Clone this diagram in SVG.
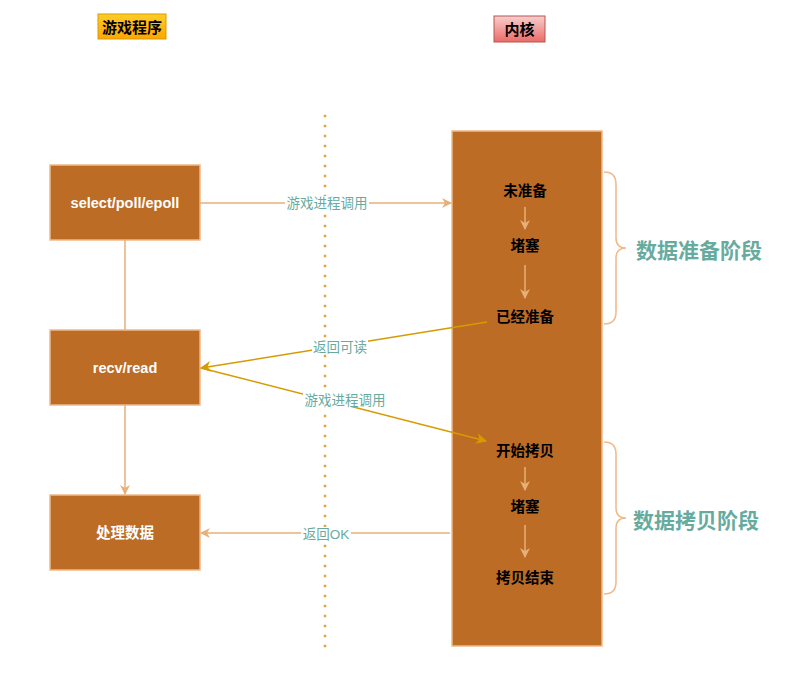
<svg xmlns="http://www.w3.org/2000/svg" width="794" height="679" viewBox="0 0 794 679">
  <defs>
    <linearGradient id="gOrange" x1="0" y1="0" x2="0" y2="1">
      <stop offset="0" stop-color="#ffcd28"/>
      <stop offset="1" stop-color="#ffa500"/>
    </linearGradient>
    <linearGradient id="gRed" x1="0" y1="0" x2="0" y2="1">
      <stop offset="0" stop-color="#f8cecc"/>
      <stop offset="1" stop-color="#ea6b66"/>
    </linearGradient>
    <marker id="aLight" viewBox="0 0 10 10" refX="9" refY="5" markerWidth="10" markerHeight="10" markerUnits="userSpaceOnUse" orient="auto">
      <path d="M0,0 L10,5 L0,10 L3,5 Z" fill="#e6b07a"/>
    </marker>
    <marker id="aDark" viewBox="0 0 10 10" refX="9" refY="5" markerWidth="11" markerHeight="11" markerUnits="userSpaceOnUse" orient="auto">
      <path d="M0,0 L10,5 L0,10 L3,5 Z" fill="#d79b00"/>
    </marker>
  </defs>
  <style>
    .box { fill: #bc6c25; stroke: #f0b98a; stroke-width: 1.5; }
    .boxText { font-family: "Liberation Sans", "Noto Sans CJK SC", sans-serif; font-size: 14.5px; font-weight: bold; fill: #ffffff; text-anchor: middle; dominant-baseline: central; }
    .kText { font-family: "Liberation Sans", "Noto Sans CJK SC", sans-serif; font-size: 14.5px; font-weight: bold; fill: #000000; text-anchor: middle; dominant-baseline: central; }
    .hText { font-family: "Liberation Sans", "Noto Sans CJK SC", sans-serif; font-size: 15px; font-weight: bold; fill: #000000; text-anchor: middle; dominant-baseline: central; }
    .lbl { font-family: "Liberation Sans", "Noto Sans CJK SC", sans-serif; font-size: 13.5px; fill: #67ab9f; text-anchor: middle; dominant-baseline: central; }
    .stage { font-family: "Liberation Sans", "Noto Sans CJK SC", sans-serif; font-size: 21px; font-weight: bold; fill: #67ab9f; dominant-baseline: central; }
    .light { stroke: #e6b07a; stroke-width: 1.5; fill: none; }
    .dark { stroke: #d79b00; stroke-width: 1.5; fill: none; }
    .brace { stroke: #f0b98a; stroke-width: 1.5; fill: none; }
    .lblBg { fill: #ffffff; }
  </style>

  <!-- column headers -->
  <g id="header-game">
    <rect x="98" y="14" width="68" height="25" fill="url(#gOrange)" stroke="#d79b00"/>
    <text class="hText" x="132" y="27">游戏程序</text>
  </g>
  <g id="header-kernel">
    <rect x="494" y="16" width="51" height="26" fill="url(#gRed)" stroke="#b85450"/>
    <text class="hText" x="519.5" y="29">内核</text>
  </g>

  <!-- divider -->
  <line x1="325" y1="116" x2="325" y2="650" stroke="#e6a23c" stroke-width="2.5" stroke-dasharray="0 10" stroke-linecap="square"/>

  <!-- kernel column -->
  <g id="kernel">
    <rect class="box" x="452" y="131" width="150" height="515"/>
    <text class="kText" x="525" y="191">未准备</text>
    <text class="kText" x="525" y="246">堵塞</text>
    <text class="kText" x="525" y="317">已经准备</text>
    <text class="kText" x="525" y="451">开始拷贝</text>
    <text class="kText" x="525" y="507">堵塞</text>
    <text class="kText" x="525" y="578">拷贝结束</text>
  </g>

  <!-- user-side nodes -->
  <g id="select">
    <rect class="box" x="50" y="165" width="150" height="75"/>
    <text class="boxText" x="125" y="203">select/poll/epoll</text>
  </g>
  <g id="recv">
    <rect class="box" x="50" y="330" width="150" height="75"/>
    <text class="boxText" x="125" y="368">recv/read</text>
  </g>
  <g id="process">
    <rect class="box" x="50" y="495" width="150" height="75"/>
    <text class="boxText" x="125" y="533">处理数据</text>
  </g>

  <!-- connectors -->
  <g id="connectors">
    <line class="light" x1="200" y1="203" x2="451" y2="203" marker-end="url(#aLight)"/>
    <rect class="lblBg" x="285" y="196" width="84" height="14"/>
    <text class="lbl" x="327" y="203">游戏进程调用</text>

    <line class="light" x1="125" y1="240" x2="125" y2="330"/>
    <line class="light" x1="125" y1="405" x2="125" y2="494" marker-end="url(#aLight)"/>

    <line class="dark" x1="487" y1="322" x2="201" y2="368" marker-end="url(#aDark)"/>
    <rect class="lblBg" x="312" y="340" width="56" height="14"/>
    <text class="lbl" x="340" y="347">返回可读</text>

    <line class="dark" x1="201" y1="368" x2="486" y2="441" marker-end="url(#aDark)"/>
    <rect class="lblBg" x="303" y="393" width="84" height="14"/>
    <text class="lbl" x="345" y="400">游戏进程调用</text>

    <line class="light" x1="450" y1="533" x2="201" y2="533" marker-end="url(#aLight)"/>
    <rect class="lblBg" x="301" y="527" width="50" height="14"/>
    <text class="lbl" x="326" y="534">返回OK</text>

    <line class="light" x1="525" y1="207" x2="525" y2="229" marker-end="url(#aLight)"/>
    <line class="light" x1="525" y1="265" x2="525" y2="298" marker-end="url(#aLight)"/>
    <line class="light" x1="525" y1="467" x2="525" y2="490" marker-end="url(#aLight)"/>
    <line class="light" x1="525" y1="525" x2="525" y2="557" marker-end="url(#aLight)"/>
  </g>

  <!-- stage braces -->
  <g id="stage-prepare">
    <path class="brace" d="M604,172 Q616,172 616,184 L616,238 Q616,248 626,248 Q616,248 616,258 L616,312 Q616,324 604,324"/>
    <text class="stage" x="636" y="250">数据准备阶段</text>
  </g>
  <g id="stage-copy">
    <path class="brace" d="M604,442 Q616,442 616,454 L616,508 Q616,518 626,518 Q616,518 616,528 L616,582 Q616,594 604,594"/>
    <text class="stage" x="633" y="520">数据拷贝阶段</text>
  </g>
</svg>
